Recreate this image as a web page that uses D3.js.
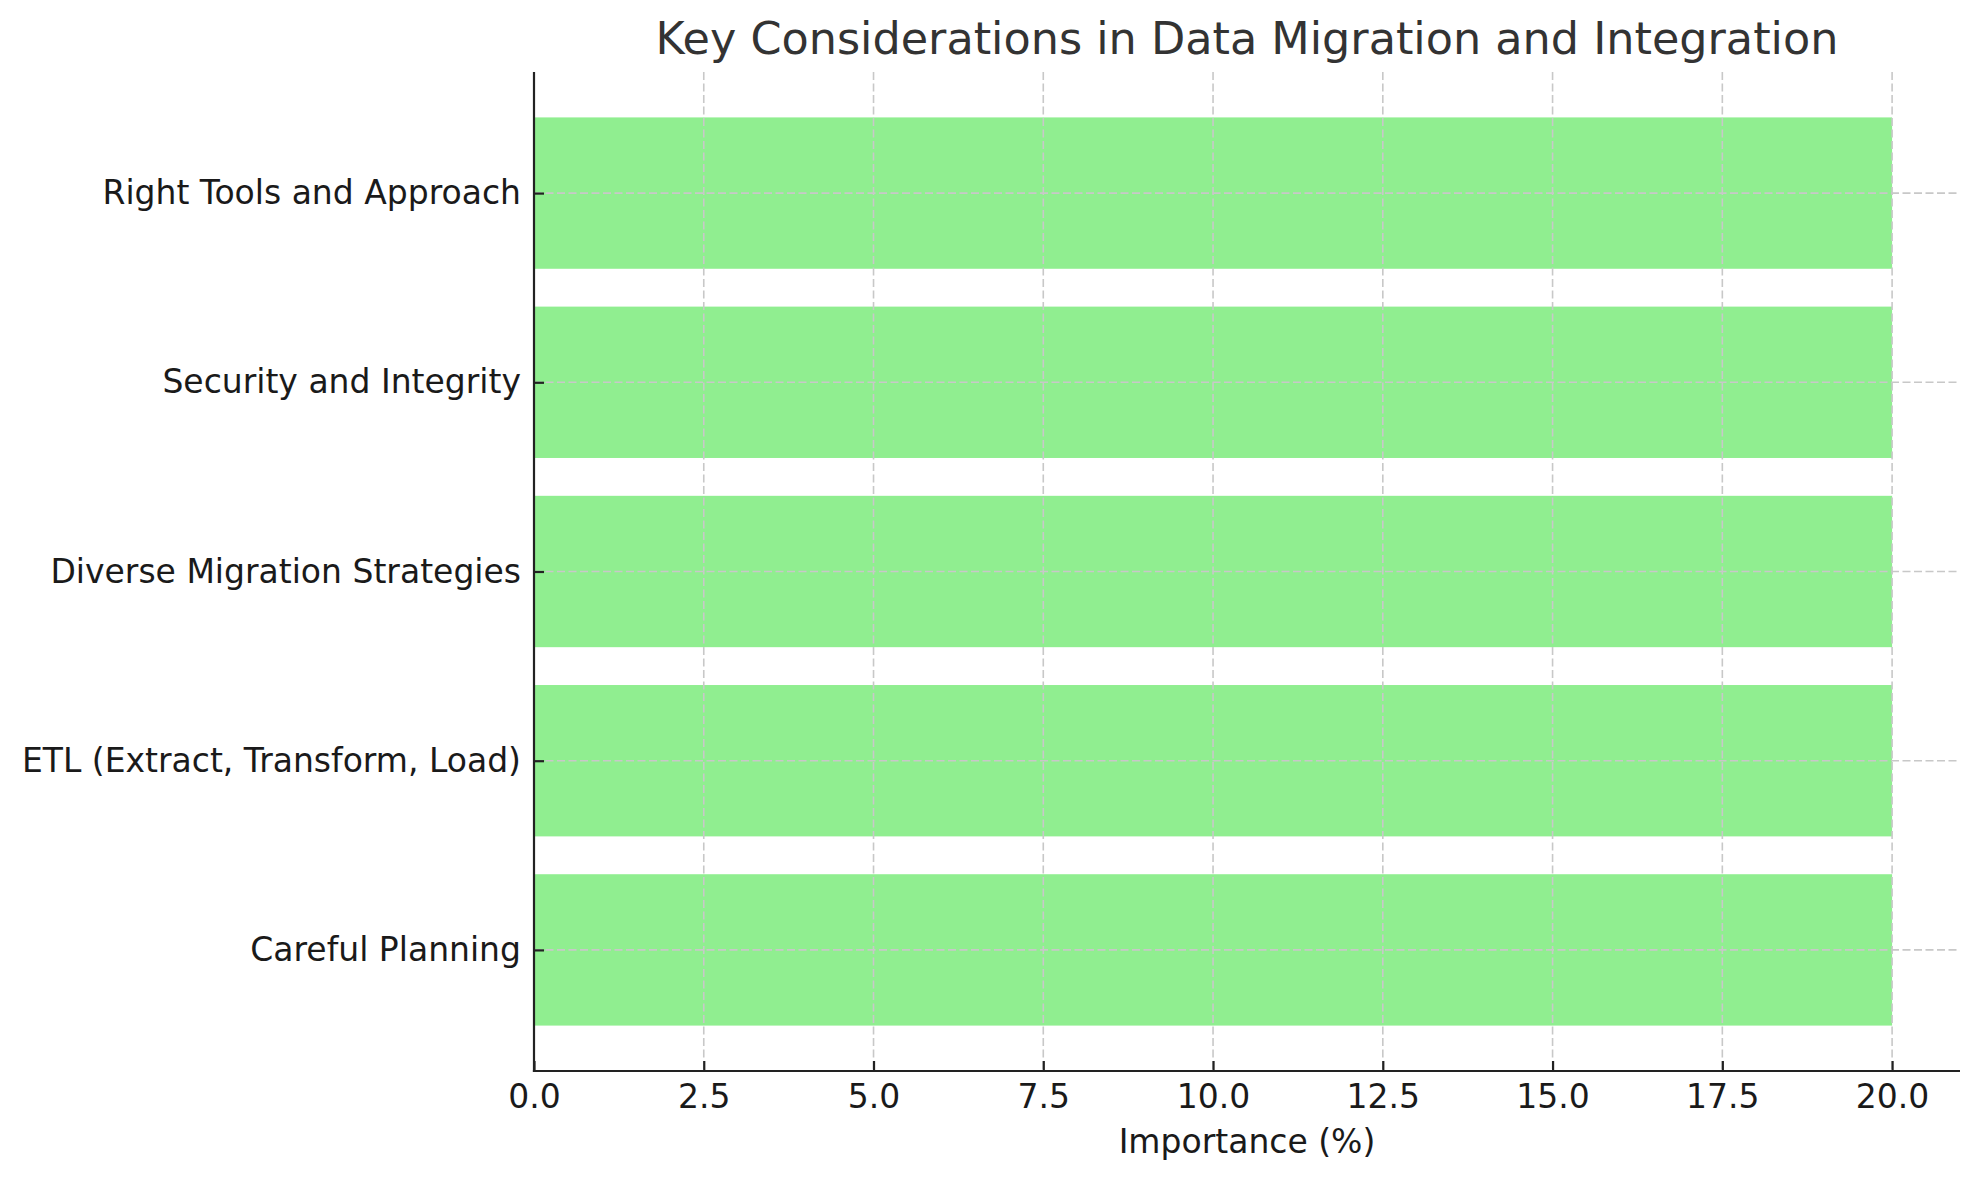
<!DOCTYPE html>
<html><head><meta charset="utf-8">
<script src="https://cdn.jsdelivr.net/npm/d3@7"></script>
<style>body{margin:0;background:#fff}svg{display:block}text{font-family:"DejaVu Sans",sans-serif}</style>
</head><body>
<svg id="c" width="1979" height="1180"></svg>
<script>
const categories = ["Careful Planning","ETL (Extract, Transform, Load)","Diverse Migration Strategies","Security and Integrity","Right Tools and Approach"];
const values = [20,20,20,20,20];
const xTicks = [0,2.5,5,7.5,10,12.5,15,17.5,20];
const title = "Key Considerations in Data Migration and Integration";
const xLabel = "Importance (%)";

const W=1979,H=1180;
const m={left:534,right:1960,top:72,bottom:1071};
const svg=d3.select("#c");
const x=d3.scaleLinear().domain([0,21]).range([m.left,m.right]);
const y=d3.scaleLinear().domain([-0.64,4.64]).range([m.bottom,m.top]);
const barH=0.8;

// bars
svg.append("g").selectAll("rect").data(values).join("rect")
 .attr("x",x(0)).attr("width",d=>x(d)-x(0))
 .attr("y",(d,i)=>y(i+barH/2)).attr("height",(d,i)=>y(i-barH/2)-y(i+barH/2))
 .attr("fill","#90EE90");

// grid
const grid=svg.append("g").attr("stroke","#c8c8c8").attr("stroke-width",1.6).attr("stroke-dasharray","8,3.5");
grid.selectAll("line.v").data(xTicks).join("line").attr("class","v")
 .attr("x1",d=>x(d)).attr("x2",d=>x(d)).attr("y1",m.top).attr("y2",m.bottom);
grid.selectAll("line.h").data(categories).join("line").attr("class","h")
 .attr("x1",m.left).attr("x2",m.right).attr("y1",(d,i)=>y(i)).attr("y2",(d,i)=>y(i));

// axes
const xAxis=d3.axisBottom(x).tickValues(xTicks).tickFormat(d3.format(".1f")).tickSizeInner(-10).tickSizeOuter(0).tickPadding(14);
const gx=svg.append("g").attr("transform",`translate(0,${m.bottom})`).call(xAxis);
gx.select(".domain").remove();
gx.selectAll("line").attr("stroke","#222").attr("stroke-width",2.2);
gx.selectAll("text").attr("font-size",33).attr("fill","#1a1a1a").attr("font-family","DejaVu Sans");

const yAxis=d3.axisLeft(y).tickValues(d3.range(categories.length)).tickFormat(i=>categories[i]).tickSizeInner(-10).tickSizeOuter(0).tickPadding(13);
const gy=svg.append("g").attr("transform",`translate(${m.left},0)`).call(yAxis);
gy.select(".domain").remove();
gy.selectAll("line").attr("stroke","#222").attr("stroke-width",2.2);
gy.selectAll("text").attr("font-size",33).attr("fill","#1a1a1a").attr("font-family","DejaVu Sans");

// spines
svg.append("line").attr("x1",m.left).attr("x2",m.left).attr("y1",m.top).attr("y2",m.bottom+1.1).attr("stroke","#222").attr("stroke-width",2.2);
svg.append("line").attr("x1",m.left-1.1).attr("x2",m.right).attr("y1",m.bottom).attr("y2",m.bottom).attr("stroke","#222").attr("stroke-width",2.2);

// title & label
svg.append("text").attr("x",(m.left+m.right)/2).attr("y",54).attr("text-anchor","middle")
 .attr("font-size",44.5).attr("fill","#333").text(title);
svg.append("text").attr("x",(m.left+m.right)/2).attr("y",1153).attr("text-anchor","middle")
 .attr("font-size",33).attr("fill","#1a1a1a").text(xLabel);
</script>
</body></html>
